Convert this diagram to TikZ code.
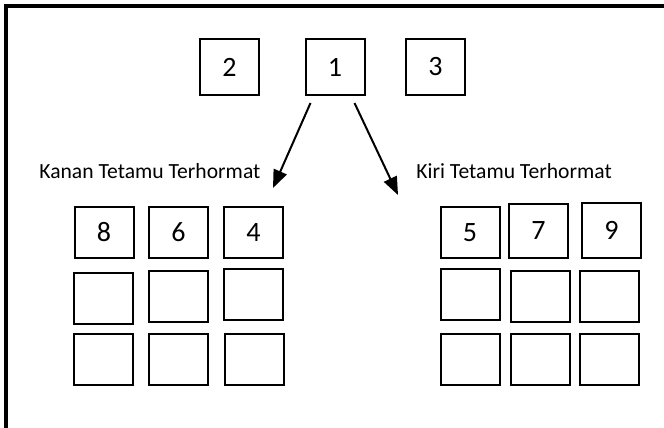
\documentclass[tikz,border=0pt]{standalone}
\usepackage{fontspec}
\setmainfont{Carlito}
\usetikzlibrary{arrows.meta}
\tikzset{
  kotak/.style={draw, line width=1pt, inner sep=0pt, minimum width=29.5pt,
    minimum height=25.5pt, font=\fontsize{14}{16}\selectfont},
  panah/.style={line width=1pt, -{Triangle[length=9pt,width=7pt]}},
  tulisan/.style={anchor=base west, inner sep=0pt, font=\fontsize{10.8}{12}\selectfont}
}
\begin{document}
\begin{tikzpicture}[x=0.5pt, y=-0.5pt]
    \useasboundingbox (0,0) rectangle (664,428);
    %------------Bingkai----------
    \draw[line width=1.6pt] (6,428) -- (6,6) -- (664,6);
    %------------Baris atas----------
    \node[kotak, minimum height=28pt] (b2) at (229.5,67) {2};
    \node[kotak, minimum height=28pt] (b1) at (335,67) {1};
    \node[kotak, minimum height=28pt] (b3) at (435.5,67) {3};
    %------------Anak panah----------
    \coordinate (kanan) at (273,188);
    \coordinate (kiri) at (398,195);
    \draw[panah] ([shift={(6,7)}]b1.south west) -- (kanan);
    \draw[panah] ([shift={(-11,7)}]b1.south east) -- (kiri);
    \node[tulisan] (tkanan) at (39,178) {Kanan Tetamu Terhormat};
    \node[tulisan] (tkiri) at (416,178) {Kiri Tetamu Terhormat};
    %------------Kanan Tetamu----------
    \node[kotak] (b8) at (104,232.5) {8};
    \node[kotak] (b6) at (178.5,232.5) {6};
    \node[kotak] (b4) at (253.5,232.5) {4};
    \foreach \x/\y/\n in {103.5/298.5/1, 178/296/2, 253.5/294.5/3,
                          103.5/359/4, 178.5/359/5, 254.5/359/6} {
        \node[kotak] (ka\n) at (\x,\y) {};
    }
    %------------Kiri Tetamu-----------
    \node[kotak] (b5) at (470,232.5) {5};
    \node[kotak, minimum height=27pt] (b7) at (538.5,231) {7};
    \node[kotak, minimum height=27.5pt] (b9) at (611.5,230.5) {9};
    \foreach \x/\y/\n in {470.5/294.5/1, 540.5/296/2, 609.5/296/3,
                          470.5/359/4, 540.5/359/5, 609.5/359/6} {
        \node[kotak] (ki\n) at (\x,\y) {};
    }
\end{tikzpicture}
\end{document}
